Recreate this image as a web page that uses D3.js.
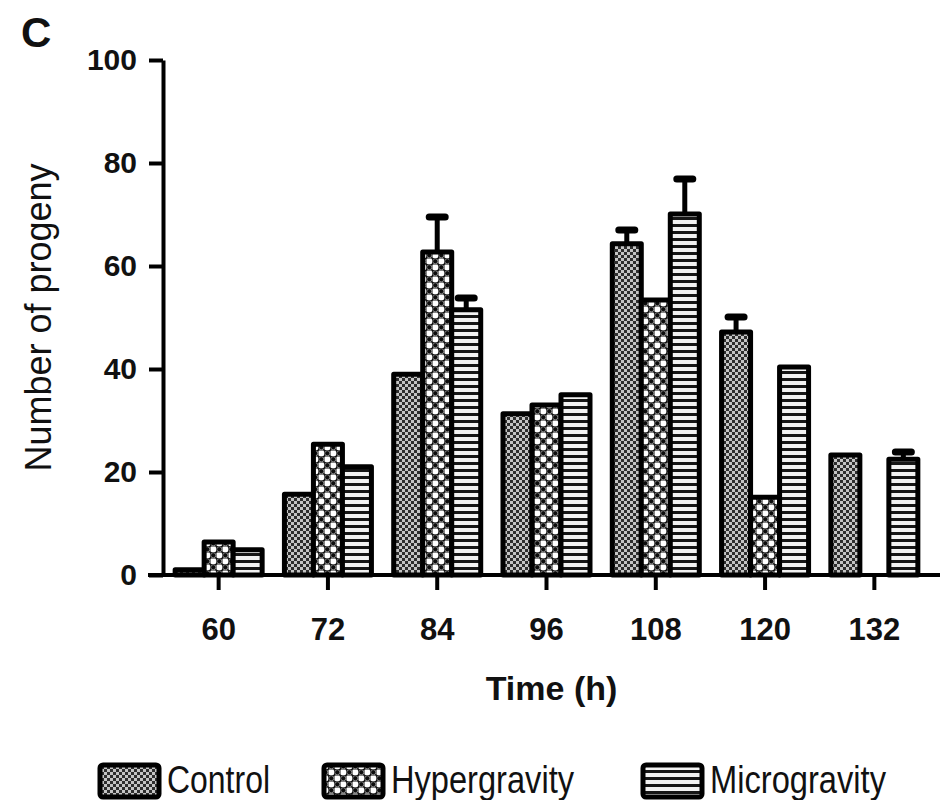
<!DOCTYPE html>
<html>
<head>
<meta charset="utf-8">
<script src="https://cdn.jsdelivr.net/npm/d3@7"></script>
<style>
  html, body { margin: 0; padding: 0; background: #fff; }
  svg { display: block; }
  text { font-family: "Liberation Sans", Arial, Helvetica, sans-serif; fill: #111; }
</style>
</head>
<body>
<svg id="chart" width="944" height="800"></svg>
<script>
// Number of progeny over time for three gravity conditions
const times = ["60", "72", "84", "96", "108", "120", "132"];
const seriesNames = ["Control", "Hypergravity", "Microgravity"];
const controlValues = [1.0, 15.7, 39.0, 31.3, 64.3, 47.2, 23.3];
const hyperValues = [6.4, 25.4, 62.7, 33.0, 53.4, 15.1, null];
const microValues = [4.9, 21.0, 51.5, 35.0, 70.1, 40.4, 22.5];
const controlErrors = [0, 0, 0, 0, 2.7, 2.9, 0];
const hyperErrors = [0, 0, 6.8, 0, 0, 0, 0];
const microErrors = [0, 0, 2.3, 0, 6.8, 0, 1.4];
const yTicks = [0, 20, 40, 60, 80, 100];

const valuesBySeries = [controlValues, hyperValues, microValues];
const errorsBySeries = [controlErrors, hyperErrors, microErrors];
const patternIds = ["pat-control", "pat-hyper", "pat-micro"];

const svg = d3.select("#chart");
const defs = svg.append("defs");

// Fine checker for Control
const pc = defs.append("pattern").attr("id", "pat-control")
  .attr("patternUnits", "userSpaceOnUse").attr("width", 6).attr("height", 6);
pc.append("rect").attr("width", 6).attr("height", 6).attr("fill", "#c4c4c4");
pc.append("rect").attr("x", 0).attr("y", 0).attr("width", 3).attr("height", 3).attr("fill", "#2e2e2e");
pc.append("rect").attr("x", 3).attr("y", 3).attr("width", 3).attr("height", 3).attr("fill", "#2e2e2e");

// Coarse checker of white squares and dark dots for Hypergravity
const ph = defs.append("pattern").attr("id", "pat-hyper")
  .attr("patternUnits", "userSpaceOnUse").attr("width", 12).attr("height", 12);
ph.append("rect").attr("width", 12).attr("height", 12).attr("fill", "#0d0d0d");
ph.append("rect").attr("x", 0.5).attr("y", 0.5).attr("width", 5.5).attr("height", 5.5)
  .attr("rx", 1).attr("fill", "#fff");
ph.append("rect").attr("x", 6.5).attr("y", 6.5).attr("width", 5.5).attr("height", 5.5)
  .attr("rx", 1).attr("fill", "#fff");
ph.append("circle").attr("cx", 9.25).attr("cy", 3.25).attr("r", 2.6)
  .attr("fill", "none").attr("stroke", "#8a8a8a").attr("stroke-width", 1);
ph.append("circle").attr("cx", 3.25).attr("cy", 9.25).attr("r", 2.6)
  .attr("fill", "none").attr("stroke", "#8a8a8a").attr("stroke-width", 1);

// Horizontal stripes for Microgravity
const pm = defs.append("pattern").attr("id", "pat-micro")
  .attr("patternUnits", "userSpaceOnUse").attr("width", 7).attr("height", 7);
pm.append("rect").attr("width", 7).attr("height", 7).attr("fill", "#f2f2f2");
pm.append("rect").attr("x", 0).attr("y", 0).attr("width", 7).attr("height", 3).attr("fill", "#161616");

// Scales
const y = d3.scaleLinear().domain([0, 100]).range([575, 60]);
const x0 = d3.scaleBand().domain(times).range([164, 929]).padding(0);
const groupWidth = 87;
const x1 = d3.scaleBand().domain(seriesNames).range([0, groupWidth]).padding(0);
const groupOffset = (x0.bandwidth() - groupWidth) / 2;

// Bars
const barLayer = svg.append("g");
seriesNames.forEach((name, si) => {
  const vals = valuesBySeries[si];
  barLayer.append("g").selectAll("rect")
    .data(times.map((t, i) => ({ t, v: vals[i] })).filter(d => d.v !== null))
    .join("rect")
    .attr("x", d => x0(d.t) + groupOffset + x1(name))
    .attr("y", d => y(d.v))
    .attr("width", x1.bandwidth())
    .attr("height", d => y(0) - y(d.v))
    .attr("fill", `url(#${patternIds[si]})`)
    .attr("stroke", "#000")
    .attr("stroke-width", 5)
    .attr("stroke-linejoin", "round");
});

// Error bars (upper only)
const errLayer = svg.append("g").attr("stroke", "#000");
seriesNames.forEach((name, si) => {
  const vals = valuesBySeries[si];
  const errs = errorsBySeries[si];
  const items = times.map((t, i) => ({ t, v: vals[i], e: errs[i] }))
    .filter(d => d.v !== null && d.e > 0);
  const cx = d => x0(d.t) + groupOffset + x1(name) + x1.bandwidth() / 2;
  errLayer.append("g").selectAll("line").data(items).join("line")
    .attr("x1", cx).attr("x2", cx)
    .attr("y1", d => y(d.v)).attr("y2", d => y(d.v + d.e))
    .attr("stroke-width", 5);
  errLayer.append("g").selectAll("line").data(items).join("line")
    .attr("x1", d => cx(d) - 8).attr("x2", d => cx(d) + 8)
    .attr("y1", d => y(d.v + d.e)).attr("y2", d => y(d.v + d.e))
    .attr("stroke-width", 7).attr("stroke-linecap", "round");
});

// Y axis
const yAxis = svg.append("g").attr("transform", "translate(163,0)")
  .call(d3.axisLeft(y).tickValues(yTicks).tickSize(14).tickSizeOuter(0).tickPadding(12));
yAxis.select(".domain").attr("stroke", "#000").attr("stroke-width", 4);
yAxis.selectAll(".tick line").attr("stroke", "#000").attr("stroke-width", 4);
yAxis.selectAll(".tick text")
  .style("font-family", "'Liberation Sans', Arial, sans-serif")
  .style("font-weight", "bold").style("font-size", "30px").attr("fill", "#111");

// X axis
const xAxis = svg.append("g").attr("transform", "translate(0,575)")
  .call(d3.axisBottom(x0).tickSize(15).tickSizeOuter(0).tickPadding(28));
xAxis.select(".domain").remove();
xAxis.append("line").attr("x1", 148).attr("x2", 940).attr("y1", 0).attr("y2", 0)
  .attr("stroke", "#000").attr("stroke-width", 4);
xAxis.selectAll(".tick line").attr("stroke", "#000").attr("stroke-width", 4);
xAxis.selectAll(".tick text")
  .style("font-family", "'Liberation Sans', Arial, sans-serif")
  .style("font-weight", "bold").style("font-size", "31px").attr("fill", "#111");

// Axis titles
svg.append("text")
  .attr("x", (x0.range()[0] + x0.range()[1]) / 2 + 5).attr("y", 700)
  .attr("text-anchor", "middle")
  .style("font-weight", "bold").style("font-size", "34px")
  .text("Time (h)");

svg.append("text")
  .attr("transform", `translate(51,${(y(0) + y(100)) / 2}) rotate(-90)`)
  .attr("text-anchor", "middle")
  .style("font-size", "36px")
  .text("Number of progeny");

// Panel letter
svg.append("text").attr("x", 21).attr("y", 47)
  .style("font-weight", "bold").style("font-size", "42px").text("C");

// Legend
const legendX = [98, 322, 641];
const legendTextWidths = [103, 183, 176];
const legend = svg.append("g");
seriesNames.forEach((name, si) => {
  const g = legend.append("g").attr("transform", `translate(${legendX[si]},763)`);
  g.append("rect").attr("x", 2).attr("y", 2).attr("width", 59).attr("height", 32)
    .attr("rx", 3)
    .attr("fill", `url(#${patternIds[si]})`).attr("stroke", "#000").attr("stroke-width", 5);
  g.append("text").attr("x", 69).attr("y", 30)
    .style("font-size", "38px")
    .attr("textLength", legendTextWidths[si]).attr("lengthAdjust", "spacingAndGlyphs")
    .text(name);
});
</script>
</body>
</html>
